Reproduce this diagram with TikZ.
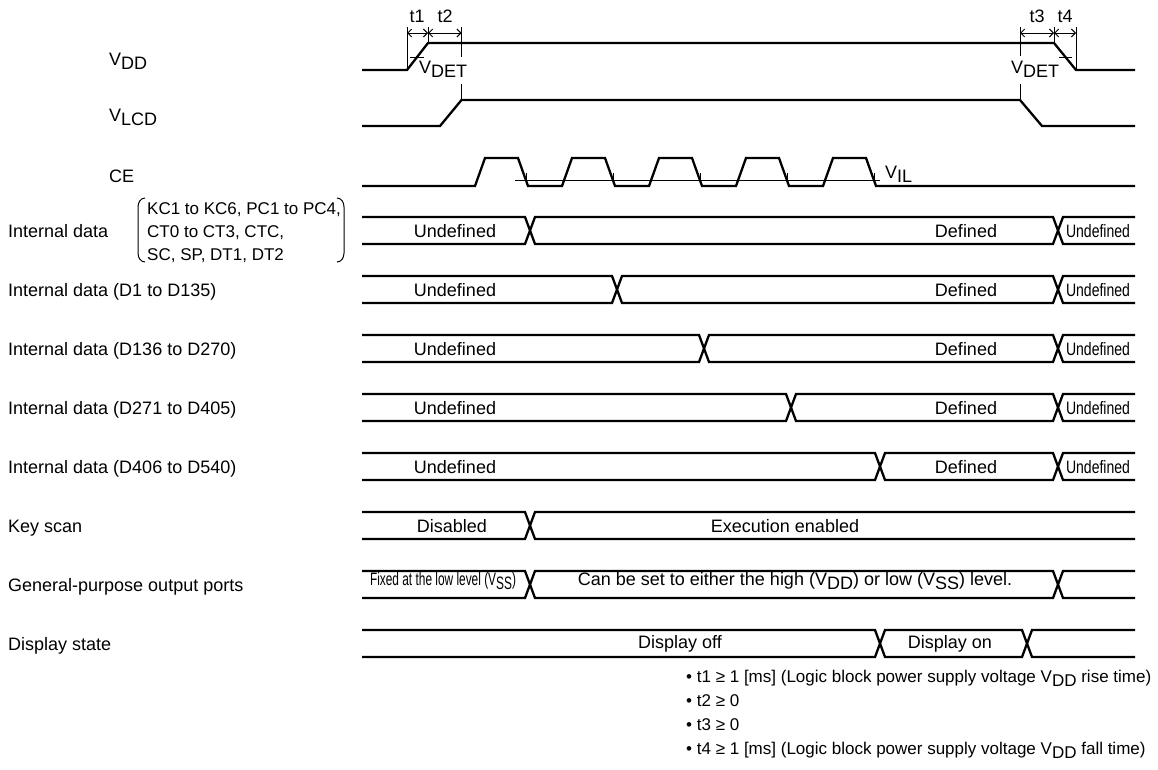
\documentclass[tikz,border=0pt]{standalone}
\usepackage{fontspec}
\usepackage{graphicx}
\setmainfont{Liberation Sans}
\usetikzlibrary{arrows.meta}
\newcommand\lo[1]{\raisebox{-4.5pt}{#1}}
\newcommand\cond[1]{\scalebox{0.78}[1]{#1}}
\newcommand\busA[2]{%
 \draw[sig] (362,#1-13.5) -- (#2-5,#1-13.5) -- (#2+5,#1+13.5) -- (1135,#1+13.5);
 \draw[sig] (362,#1+13.5) -- (#2-5,#1+13.5) -- (#2+5,#1-13.5) -- (1135,#1-13.5);}
\newcommand\busB[3]{%
 \draw[sig] (362,#1-13.5) -- (#2-5,#1-13.5) -- (#2+5,#1+13.5) -- (#3-5,#1+13.5) -- (#3+5,#1-13.5) -- (1135,#1-13.5);
 \draw[sig] (362,#1+13.5) -- (#2-5,#1+13.5) -- (#2+5,#1-13.5) -- (#3-5,#1-13.5) -- (#3+5,#1+13.5) -- (1135,#1+13.5);}
\begin{document}
\begin{tikzpicture}[x=1pt,y=-1pt,
  sig/.style={line width=2.3pt, line join=miter},
  fine/.style={line width=0.9pt},
  dimarrow/.style={line width=0.9pt, {Straight Barb[length=4pt,width=8pt]}-{Straight Barb[length=4pt,width=8pt]}},
  txt/.style={font=\fontsize{18}{21}\selectfont, inner sep=0pt, anchor=base},
  ltxt/.style={txt, anchor=base west},
  ktxt/.style={ltxt, font=\fontsize{17}{20}\selectfont},
  ntxt/.style={ltxt, font=\fontsize{17}{20}\selectfont}]
\useasboundingbox (0,0) rectangle (1158,769);

% ---------- left labels ----------
\node[ltxt] (lvdd) at (109,65) {V\lo{DD}};
\node[ltxt] (lvlcd) at (109,121) {V\lo{LCD}};
\node[ltxt] (lce) at (109,182) {CE};
\node[ltxt] (lint) at (8,237) {Internal data};
\node[ktxt] (kc1) at (147,214) {KC1 to KC6, PC1 to PC4,};
\node[ktxt] (kc2) at (147,237) {CT0 to CT3, CTC,};
\node[ktxt] (kc3) at (147,260) {SC, SP, DT1, DT2};
\draw[line width=1pt] (145,198) to[out=180,in=90] (138,207) -- (138,253) to[out=-90,in=180] (145,262);
\draw[line width=1pt] (337,198) to[out=0,in=90] (344,207) -- (344,253) to[out=-90,in=0] (337,262);
\node[ltxt] (l2) at (8,296) {Internal data (D1 to D135)};
\node[ltxt] (l3) at (8,355) {Internal data (D136 to D270)};
\node[ltxt] (l4) at (8,414) {Internal data (D271 to D405)};
\node[ltxt] (l5) at (8,473) {Internal data (D406 to D540)};
\node[ltxt] (l6) at (8,532) {Key scan};
\node[ltxt] (l7) at (8,591) {General-purpose output ports};
\node[ltxt] (l8) at (8,650) {Display state};

% ---------- VDD ----------
\draw[sig] (362,70) -- (407,70) -- (428,43) -- (1054,43) -- (1076,70) -- (1135,70);
\draw[fine] (410,57) -- (424,57);
\draw[fine] (1059,57) -- (1072,57);
\draw[fine] (407,27) -- (407,70);
\draw[fine] (428,27) -- (428,43);
\draw[fine] (461.5,27) -- (461.5,57);
\draw[fine] (461.5,84) -- (461.5,100);
\draw[fine] (1020,27) -- (1020,56);
\draw[fine] (1020,84) -- (1020,100);
\draw[fine] (1054,27) -- (1054,43);
\draw[fine] (1076,27) -- (1076,70);
\draw[dimarrow] (407,33) -- (428,33);
\draw[dimarrow] (428,33) -- (461.5,33);
\draw[dimarrow] (1020,33) -- (1054,33);
\draw[dimarrow] (1054,33) -- (1076,33);
\node[txt] (t1) at (417,22) {t1};
\node[txt] (t2) at (445,22) {t2};
\node[txt] (t3) at (1037,22) {t3};
\node[txt] (t4) at (1065,22) {t4};
\node[ltxt] (vdet1) at (419,73) {V\lo{DET}};
\node[ltxt] (vdet2) at (1011,73) {V\lo{DET}};

% ---------- VLCD ----------
\draw[sig] (362,126) -- (440,126) -- (461.5,100) -- (1020,100) -- (1042,126) -- (1135,126);

% ---------- CE ----------
\draw[sig] (362,186)
  \foreach \k in {0,...,4} { -- (475+87*\k,186) -- (485+87*\k,158) -- (518+87*\k,158) -- (528+87*\k,186) }
  -- (1135,186);
\draw[fine] (515,180) -- (880,180);
\foreach \k in {0,...,4} { \draw[fine] (526+87*\k,173) -- (526+87*\k,184); }
\node[ltxt] (vil) at (885,178) {V\lo{IL}};

% ---------- buses ----------
\busB{230.5}{530}{1058}
\busB{289.5}{617}{1058}
\busB{348.5}{704}{1058}
\busB{407.5}{791}{1058}
\busB{466.5}{880}{1058}
\busA{525.5}{530}
\draw[sig] (1063,512) -- (1135,512);
\draw[sig] (1063,539) -- (1135,539);
\busB{584.5}{530}{1058}
\busB{643.5}{880}{1027}

\foreach \r [count=\i] in {230.5,289.5,348.5,407.5,466.5} {
  \node[txt] (u\i) at (455,\r+6.5) {Undefined};
  \node[txt] (d\i) at (966,\r+6.5) {Defined};
  \node[txt] (e\i) at (1098,\r+6.5) {\cond{Undefined}};
}
\node[txt] (dis) at (452,532) {Disabled};
\node[txt] (exe) at (785,532) {Execution enabled};
\node[txt] (fix) at (443,585) {\scalebox{0.66}[1]{Fixed at the low level (V\lo{SS})}};
\node[txt] (can) at (795,585) {Can be set to either the high (V\lo{DD}) or low (V\lo{SS}) level.};
\node[txt] (doff) at (680,648) {Display off};
\node[txt] (don) at (950,648) {Display on};

% ---------- notes ----------
\node[ntxt] (n1) at (686,682) {• t1 ≥ 1 [ms] (Logic block power supply voltage V\lo{DD} rise time)};
\node[ntxt] (n2) at (686,706) {• t2 ≥ 0};
\node[ntxt] (n3) at (686,730) {• t3 ≥ 0};
\node[ntxt] (n4) at (686,754) {• t4 ≥ 1 [ms] (Logic block power supply voltage V\lo{DD} fall time)};
\end{tikzpicture}
\end{document}
